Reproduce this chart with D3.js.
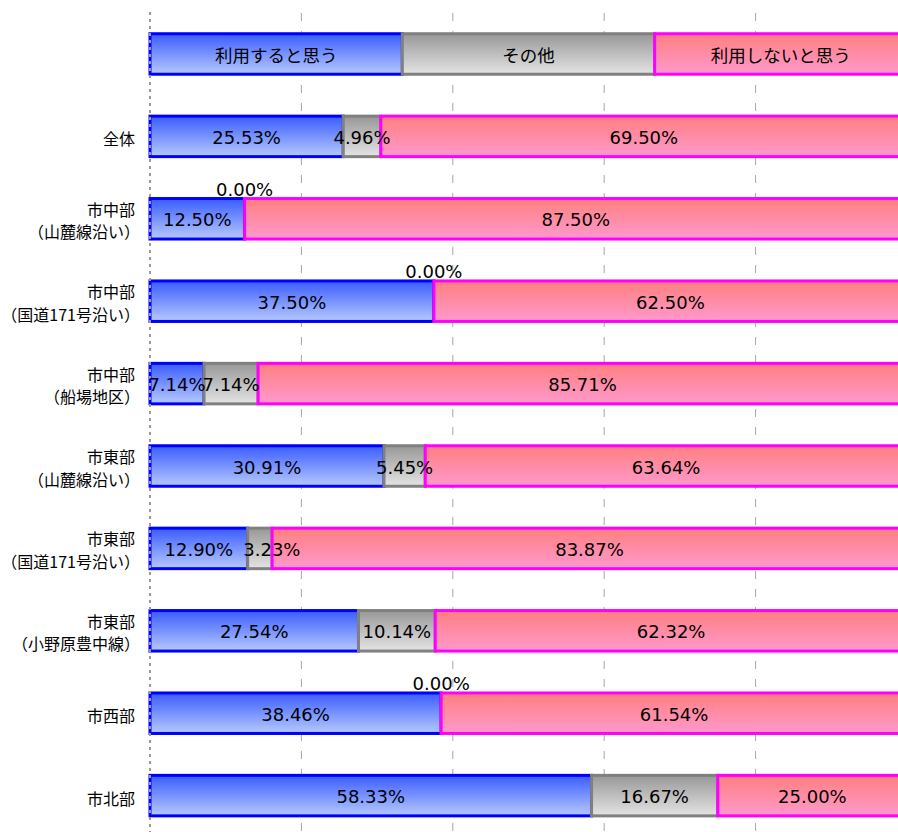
<!doctype html>
<html>
<head>
<meta charset='utf-8'>
<style>
  body { margin: 0; background: #fff; }
  svg { display: block; }
</style>
</head>
<body>
<div id='chart'></div>
<script src='https://cdn.jsdelivr.net/npm/d3@7'></script>
<script>

// series names (legend row) and category rows
const seriesNames = ['利用すると思う', 'その他', '利用しないと思う'];
const categories = [
  ['全体'],
  ['市中部', '（山麓線沿い）'],
  ['市中部', '（国道171号沿い）'],
  ['市中部', '（船場地区）'],
  ['市東部', '（山麓線沿い）'],
  ['市東部', '（国道171号沿い）'],
  ['市東部', '（小野原豊中線）'],
  ['市西部'],
  ['市北部']
];

// percent values per series
const useValues    = [25.53, 12.50, 37.50, 7.14, 30.91, 12.90, 27.54, 38.46, 58.33];
const otherValues  = [4.96, 0.00, 0.00, 7.14, 5.45, 3.23, 10.14, 0.00, 16.67];
const notUseValues = [69.50, 87.50, 62.50, 85.71, 63.64, 83.87, 62.32, 61.54, 25.00];

const gridTicks = [0, 20, 40, 60, 80, 100];

const W = 898, H = 832;
const colors = [
  {id: 'gBlue', top: '#3a5cff', bot: '#b6c9ff', stroke: '#0000ff'},
  {id: 'gGray', top: '#989898', bot: '#e4e4e4', stroke: '#808080'},
  {id: 'gPink', top: '#ff7f7f', bot: '#ff99cc', stroke: '#ff00ff'}
];

const svg = d3.select('#chart').append('svg')
  .attr('width', W)
  .attr('height', H);

const defs = svg.append('defs');
colors.forEach(c => {
  const g = defs.append('linearGradient')
    .attr('id', c.id)
    .attr('x1', 0).attr('y1', 0).attr('x2', 0).attr('y2', 1);
  g.append('stop').attr('offset', '0%').attr('stop-color', c.top);
  g.append('stop').attr('offset', '100%').attr('stop-color', c.bot);
});

const x = d3.scaleLinear().domain([0, 100]).range([150, 907]);
const rowKeys = ['legend'].concat(categories.map((d, i) => 'r' + i));
const y = d3.scaleBand()
  .domain(rowKeys)
  .range([12.8, 836.8])
  .paddingInner(0.5085)
  .paddingOuter(0.254);

// grid lines (behind bars)
svg.append('g')
  .selectAll('line')
  .data(gridTicks.slice(1))
  .enter().append('line')
  .attr('x1', d => x(d)).attr('x2', d => x(d))
  .attr('y1', 13).attr('y2', H)
  .attr('stroke', '#a6a6a6')
  .attr('stroke-width', 1)
  .attr('stroke-dasharray', '8,10');

// stacked rows
const rows = categories.map((c, i) => {
  const vals = [useValues[i], otherValues[i], notUseValues[i]];
  let acc = 0;
  return vals.map((v, s) => {
    const seg = {row: i, s: s, v: v, x0: acc, x1: acc + v};
    acc += v;
    return seg;
  });
});

const segs = rows.flat();

// legend row: three equal parts
const legendSegs = seriesNames.map((n, s) => ({s: s, name: n, x0: s * 100 / 3, x1: (s + 1) * 100 / 3}));

const plot = svg.append('g');

plot.selectAll('.lg')
  .data(legendSegs)
  .enter().append('rect')
  .attr('class', 'lg')
  .attr('x', d => x(d.x0))
  .attr('y', y('legend'))
  .attr('width', d => x(d.x1) - x(d.x0))
  .attr('height', y.bandwidth())
  .attr('fill', d => `url(#${colors[d.s].id})`)
  .attr('stroke', d => colors[d.s].stroke)
  .attr('stroke-width', 3);

plot.selectAll('.seg')
  .data(segs.filter(d => d.v > 0))
  .enter().append('rect')
  .attr('class', 'seg')
  .attr('x', d => x(d.x0))
  .attr('y', d => y('r' + d.row))
  .attr('width', d => x(d.x1) - x(d.x0))
  .attr('height', y.bandwidth())
  .attr('fill', d => `url(#${colors[d.s].id})`)
  .attr('stroke', d => colors[d.s].stroke)
  .attr('stroke-width', 3);

// dotted left axis on top
svg.append('line')
  .attr('x1', x(0)).attr('x2', x(0))
  .attr('y1', 12).attr('y2', H)
  .attr('stroke', '#9a9a9a')
  .attr('stroke-width', 2)
  .attr('stroke-dasharray', '3,4');

// legend texts
svg.selectAll('.lgText')
  .data(legendSegs)
  .enter().append('text')
  .attr('x', d => (x(d.x0) + x(d.x1)) / 2)
  .attr('y', y('legend') + y.bandwidth() / 2 + 1)
  .attr('text-anchor', 'middle')
  .attr('dominant-baseline', 'central')
  .style('font-family', '"Noto Sans CJK JP", sans-serif')
  .style('font-size', '17.5px')
  .attr('fill', '#000')
  .text(d => d.name);

// value labels
const nudge = {'5-1': 12}; // Excel pushed this label right
svg.selectAll('.val')
  .data(segs)
  .enter().append('text')
  .attr('x', d => (x(d.x0) + x(d.x1)) / 2 + (nudge[d.row + '-' + d.s] || 0))
  .attr('y', d => d.v > 0 ? y('r' + d.row) + y.bandwidth() / 2 + 1 : y('r' + d.row) - 9)
  .attr('text-anchor', 'middle')
  .attr('dominant-baseline', 'central')
  .style('font-family', '"DejaVu Sans", sans-serif')
  .style('font-size', '18px')
  .attr('fill', '#000')
  .text(d => d.v.toFixed(2) + '%');

// category labels
const cat = svg.selectAll('.cat')
  .data(categories)
  .enter().append('text')
  .attr('text-anchor', 'end')
  .style('font-family', '"Noto Sans CJK JP", sans-serif')
  .style('font-size', '16px')
  .attr('fill', '#000');

cat.each(function(d, i) {
  const c = y('r' + i) + y.bandwidth() / 2;
  const t = d3.select(this);
  if (d.length === 1) {
    t.append('tspan').attr('x', 135).attr('y', c + 2)
      .attr('dominant-baseline', 'central').text(d[0]);
  } else {
    t.append('tspan').attr('x', 135).attr('y', c - 10)
      .attr('dominant-baseline', 'central').text(d[0]);
    t.append('tspan').attr('x', 140).attr('y', c + 12.5)
      .attr('dominant-baseline', 'central').text(d[1]);
  }
});

</script>
</body>
</html>
